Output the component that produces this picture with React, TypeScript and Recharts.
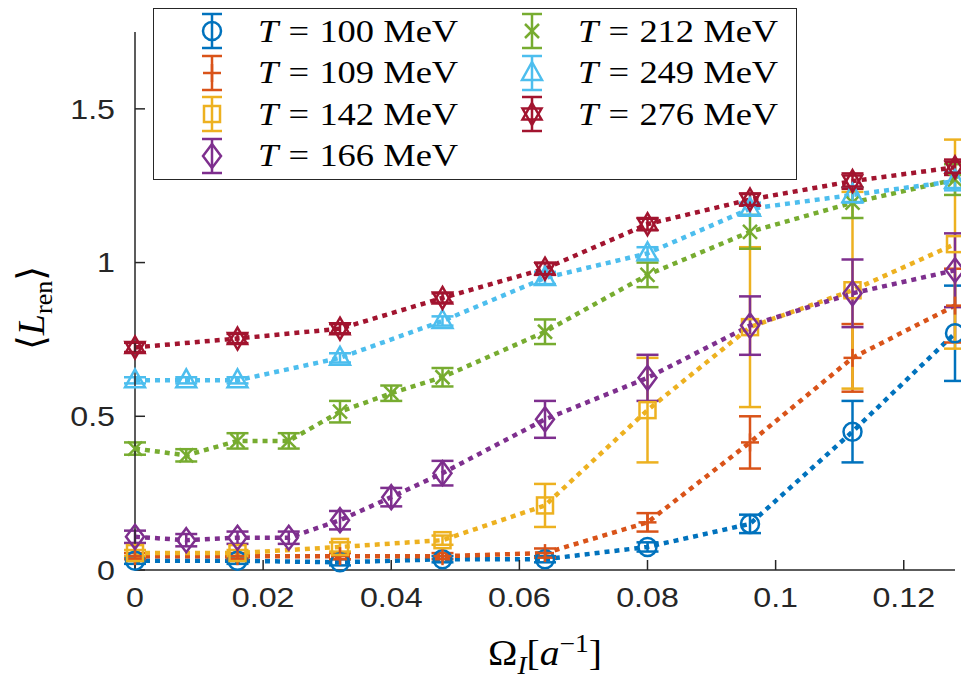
import React from "react";
import { LineChart, Line, XAxis, YAxis, ErrorBar } from "recharts";

// Omega_I grids (lattice units)
const omegaCoarse = [0, 0.016, 0.032, 0.048, 0.064, 0.08, 0.096, 0.112, 0.128];
const omegaFine = [0, 0.008, 0.016, 0.024, 0.032, 0.04, 0.048, 0.064, 0.08, 0.096, 0.112, 0.128];
const omegaCyan = [0, 0.008, 0.016, 0.032, 0.048, 0.064, 0.08, 0.096, 0.112, 0.128];

const l100 = [0.03, 0.03, 0.025, 0.035, 0.035, 0.075, 0.15, 0.45, 0.77];
const e100 = [0.01, 0.01, 0.01, 0.01, 0.01, 0.015, 0.03, 0.1, 0.155];
const l109 = [0.045, 0.045, 0.045, 0.045, 0.055, 0.155, 0.415, 0.69, 0.86];
const e109 = [0.01, 0.01, 0.01, 0.01, 0.015, 0.03, 0.085, 0.11, 0.12];
const l142 = [0.055, 0.055, 0.075, 0.097, 0.21, 0.52, 0.79, 0.91, 1.06];
const e142 = [0.01, 0.01, 0.015, 0.015, 0.07, 0.17, 0.26, 0.32, 0.34];
const l166 = [0.108, 0.097, 0.105, 0.105, 0.162, 0.237, 0.315, 0.49, 0.625, 0.795, 0.9, 0.975];
const e166 = [0.02, 0.02, 0.02, 0.02, 0.03, 0.03, 0.04, 0.06, 0.075, 0.095, 0.11, 0.12];
const l212 = [0.395, 0.373, 0.42, 0.42, 0.515, 0.575, 0.627, 0.775, 0.96, 1.1, 1.195, 1.27];
const e212 = [0.02, 0.02, 0.025, 0.025, 0.035, 0.025, 0.03, 0.04, 0.04, 0.055, 0.05, 0.05];
const l249 = [0.617, 0.617, 0.617, 0.69, 0.81, 0.95, 1.03, 1.175, 1.22, 1.265];
const e249 = [0.01, 0.01, 0.01, 0.015, 0.015, 0.02, 0.02, 0.02, 0.025, 0.03];
const l276 = [0.724, 0.753, 0.785, 0.885, 0.98, 1.125, 1.205, 1.265, 1.31];
const e276 = [0.015, 0.015, 0.015, 0.015, 0.02, 0.02, 0.02, 0.025, 0.025];

const xTicks = [0, 0.02, 0.04, 0.06, 0.08, 0.1, 0.12];
const yTicks = [0, 0.5, 1, 1.5];

type Kind = "circle" | "plus" | "square" | "diamond" | "cross" | "triangle" | "hexagram";

const zip = (xs: number[], ys: number[], es: number[]) =>
  xs.map((x, i) => ({ x, y: ys[i], e: es[i] }));

const series = [
  { name: "100", color: "#0072BD", kind: "circle" as Kind, data: zip(omegaCoarse, l100, e100) },
  { name: "109", color: "#D95319", kind: "plus" as Kind, data: zip(omegaCoarse, l109, e109) },
  { name: "142", color: "#EDB120", kind: "square" as Kind, data: zip(omegaCoarse, l142, e142) },
  { name: "166", color: "#7E2F8E", kind: "diamond" as Kind, data: zip(omegaFine, l166, e166) },
  { name: "212", color: "#77AC30", kind: "cross" as Kind, data: zip(omegaFine, l212, e212) },
  { name: "249", color: "#4DBEEE", kind: "triangle" as Kind, data: zip(omegaCyan, l249, e249) },
  { name: "276", color: "#A2142F", kind: "hexagram" as Kind, data: zip(omegaCoarse, l276, e276) },
];

const AXIS = "#262626";
const SERIF = "'Liberation Serif', 'DejaVu Serif', serif";
const SANS = "'Liberation Sans', Arial, sans-serif";

function Marker({ kind, cx, cy, color }: { kind: Kind; cx: number; cy: number; color: string }) {
  const p = { stroke: color, strokeWidth: 2.5, fill: "none" };
  switch (kind) {
    case "circle":
      return <circle cx={cx} cy={cy} r={9} {...p} />;
    case "plus":
      return (
        <g {...p}>
          <line x1={cx - 9} y1={cy} x2={cx + 9} y2={cy} />
          <line x1={cx} y1={cy - 9} x2={cx} y2={cy + 9} />
        </g>
      );
    case "square":
      return <rect x={cx - 8} y={cy - 8} width={16} height={16} {...p} />;
    case "diamond":
      return <polygon points={`${cx},${cy - 12} ${cx + 9},${cy} ${cx},${cy + 12} ${cx - 9},${cy}`} {...p} />;
    case "cross":
      return (
        <g {...p}>
          <line x1={cx - 7} y1={cy - 7} x2={cx + 7} y2={cy + 7} />
          <line x1={cx - 7} y1={cy + 7} x2={cx + 7} y2={cy - 7} />
        </g>
      );
    case "triangle":
      return <polygon points={`${cx},${cy - 11} ${cx + 10},${cy + 7} ${cx - 10},${cy + 7}`} {...p} />;
    default:
      return (
        <g {...p}>
          <polygon points={`${cx},${cy - 11} ${cx + 9.5},${cy + 5.5} ${cx - 9.5},${cy + 5.5}`} />
          <polygon points={`${cx},${cy + 11} ${cx + 9.5},${cy - 5.5} ${cx - 9.5},${cy - 5.5}`} />
        </g>
      );
  }
}

// tick labels in the original are a touch wider than Liberation Sans, so stretch them
function LeftTick({ x, y, payload }: any) {
  return (
    <g transform={`translate(${x},${y})`}>
      <text transform="scale(1.15,1)" textAnchor="end" dy="0.35em" fontSize={28} fill={AXIS} fontFamily={SANS}>
        {payload.value}
      </text>
    </g>
  );
}

function BottomTick({ x, y, payload }: any) {
  return (
    <g transform={`translate(${x},${y})`}>
      <text transform="scale(1.15,1)" textAnchor="middle" dy="0.71em" fontSize={28} fill={AXIS} fontFamily={SANS}>
        {payload.value}
      </text>
    </g>
  );
}

function LegendIcon({ kind, color }: { kind: Kind; color: string }) {
  return (
    <svg width={30} height={40} style={{ display: "block" }}>
      <g stroke={color} strokeWidth={2.5}>
        <line x1={15} y1={3} x2={15} y2={37} />
        <line x1={5} y1={3} x2={25} y2={3} />
        <line x1={5} y1={37} x2={25} y2={37} />
      </g>
      <Marker kind={kind} cx={15} cy={20} color={color} />
    </svg>
  );
}

function LegendBox() {
  const cols = [series.slice(0, 4), series.slice(4)];
  return (
    <div
      style={{
        position: "absolute",
        left: 153,
        top: 8,
        width: 644,
        height: 172,
        border: `1.5px solid ${AXIS}`,
        background: "#fff",
        boxSizing: "border-box",
        fontFamily: SERIF,
        fontSize: 32,
        color: "#000",
      }}
    >
      {cols.map((col, ci) =>
        col.map((s, ri) => (
          <div
            key={s.name}
            style={{
              position: "absolute",
              left: ci === 0 ? 43 : 363,
              top: 2 + ri * 41.5,
              display: "flex",
              alignItems: "center",
              height: 40,
              whiteSpace: "nowrap",
            }}
          >
            <LegendIcon kind={s.kind} color={s.color} />
            <span style={{ marginLeft: 31, display: "inline-block", transform: "scaleX(1.14)", transformOrigin: "left center" }}>
              <i>T</i>
              <span style={{ margin: "0 9px" }}>=</span>
              {s.name} MeV
            </span>
          </div>
        ))
      )}
    </div>
  );
}

export default function App() {
  return (
    <div style={{ position: "fixed", left: 0, top: 0, width: 961, height: 685, overflow: "hidden", background: "#fff" }}>
      <LineChart width={961} height={685} margin={{ top: 32, right: 6, bottom: 55, left: 55 }}>
        <XAxis
          xAxisId={0}
          dataKey="x"
          type="number"
          domain={[0, 0.128]}
          ticks={xTicks}
          height={60}
          tickSize={-10}
          tickMargin={27}
          tick={<BottomTick />}
          axisLine={{ stroke: AXIS, strokeWidth: 1.5 }}
          tickLine={{ stroke: AXIS, strokeWidth: 1.5 }}
          allowDuplicatedCategory={false}
        />
        <XAxis
          xAxisId="top"
          orientation="top"
          type="number"
          domain={[0, 0.128]}
          ticks={xTicks}
          height={0}
          tickSize={-10}
          tickFormatter={() => ""}
          axisLine={{ stroke: AXIS, strokeWidth: 1.5 }}
          tickLine={{ stroke: AXIS, strokeWidth: 1.5 }}
          allowDataOverflow
        />
        <YAxis
          yAxisId={0}
          type="number"
          domain={[0, 1.75]}
          ticks={yTicks}
          width={80}
          tickSize={-10}
          tickMargin={30}
          tick={<LeftTick />}
          axisLine={{ stroke: AXIS, strokeWidth: 1.5 }}
          tickLine={{ stroke: AXIS, strokeWidth: 1.5 }}
        />
        <YAxis
          yAxisId="right"
          orientation="right"
          type="number"
          domain={[0, 1.75]}
          ticks={yTicks}
          width={0}
          tickSize={-10}
          tickFormatter={() => ""}
          axisLine={{ stroke: AXIS, strokeWidth: 1.5 }}
          tickLine={{ stroke: AXIS, strokeWidth: 1.5 }}
          allowDataOverflow
        />
        {series.map((s) => (
          <Line
            key={s.name}
            data={s.data}
            dataKey="y"
            name={`T = ${s.name} MeV`}
            stroke={s.color}
            strokeWidth={4.5}
            strokeDasharray="5 5"
            isAnimationActive={false}
            dot={(props: any) => (
              <Marker key={`${s.name}-${props.index}`} kind={s.kind} cx={props.cx} cy={props.cy} color={s.color} />
            )}
            activeDot={false}
          >
            <ErrorBar dataKey="e" direction="y" width={11} stroke={s.color} strokeWidth={2.5} isAnimationActive={false} />
          </Line>
        ))}
      </LineChart>
      <LegendBox />
      <div
        style={{
          position: "absolute",
          left: 545,
          top: 655,
          transform: "translate(-50%, -50%) scaleX(1.1)",
          fontFamily: SERIF,
          fontSize: 36,
          whiteSpace: "nowrap",
        }}
      >
        Ω<sub style={{ fontSize: 25 }}><i>I</i></sub>[<i>a</i>
        <sup style={{ fontSize: 25 }}>−1</sup>]
      </div>
      <div
        style={{
          position: "absolute",
          left: 34,
          top: 308,
          transform: "translate(-50%, -50%) rotate(-90deg)",
          fontFamily: SERIF,
          fontSize: 38,
          whiteSpace: "nowrap",
        }}
      >
        ⟨<i>L</i>
        <sub style={{ fontSize: 26 }}>ren</sub>⟩
      </div>
    </div>
  );
}
